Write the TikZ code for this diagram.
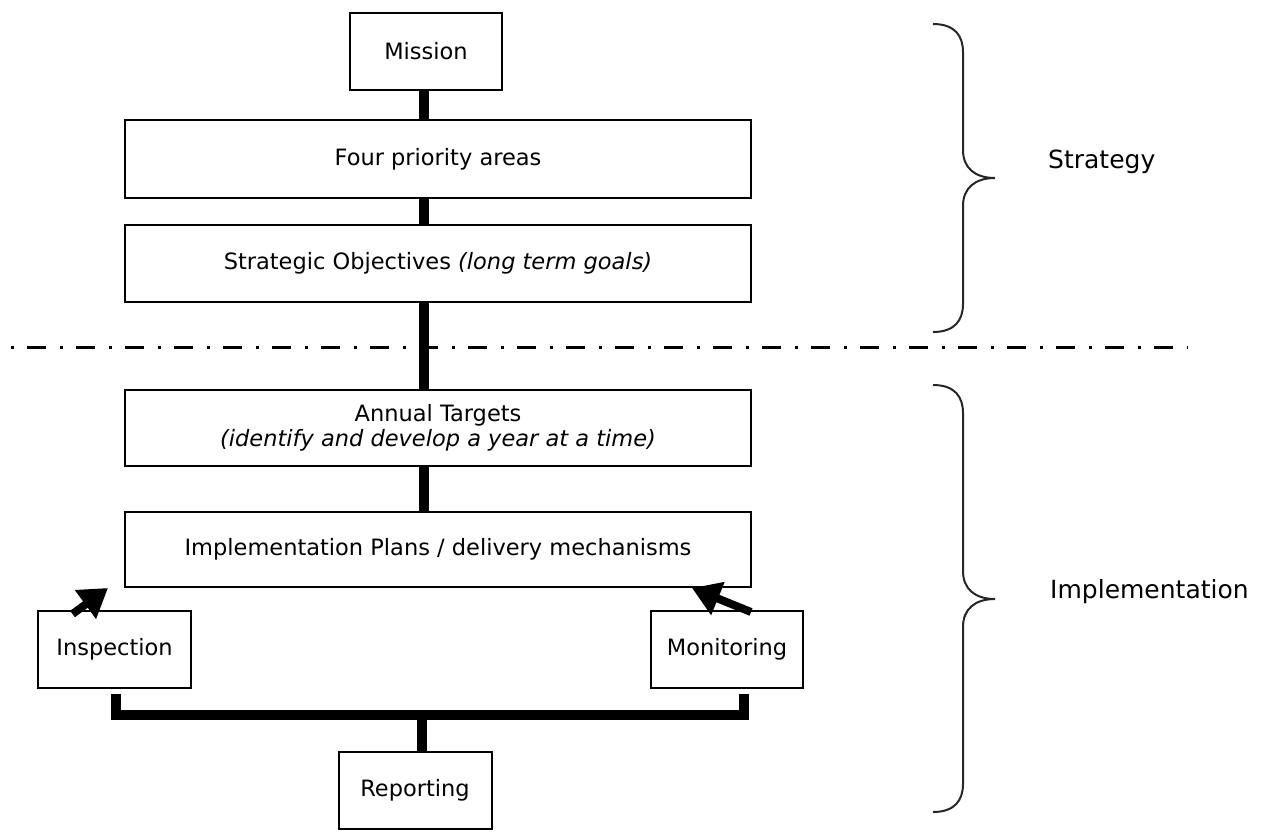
\documentclass[tikz,border=0pt]{standalone}
\usepackage{fontspec}
\setmainfont{DejaVu Sans}
\usetikzlibrary{arrows.meta,calc}
\tikzset{
  box/.style={draw=black, line width=2pt, fill=white, inner sep=0pt, outer sep=0pt,
    align=center, font=\fontsize{22.5}{25}\selectfont},
  bigbox/.style={box, minimum width=626pt},
  smallbox/.style={box, minimum width=153pt, minimum height=77pt},
  spine/.style={line width=10pt, black},
  bracketline/.style={line width=10pt, black, line join=miter},
  fatarrow/.style={line width=8pt, black, -{Triangle[length=28pt,width=34pt]}},
  bracepath/.style={line width=2pt, black!85},
  sidelabel/.style={inner sep=0pt, anchor=west, font=\fontsize{25}{30}\selectfont},
  divider/.style={line width=3pt, black, dash pattern=on 3pt off 13.5pt on 19pt off 13.5pt}
}
\begin{document}
\begin{tikzpicture}[x=1pt,y=-1pt]
\useasboundingbox (0,0) rectangle (1271,831);

% boxes
\node[smallbox, minimum width=152pt] (mission) at (426,51.5) {Mission};
\node[bigbox, minimum height=78pt] (four) at (438,159) {Four priority areas};
\node[bigbox, minimum height=77pt] (strat) at (438,263.5) {Strategic Objectives \textit{(long term goals)}};
\node[bigbox, minimum height=76pt] (annual) at (438,428) {Annual Targets\\\textit{(identify and develop a year at a time)}};
\node[bigbox, minimum height=75pt] (impl) at (438,549.5) {Implementation Plans / delivery mechanisms};
\node[smallbox] (insp) at (114.5,649.5) {Inspection};
\node[smallbox, minimum width=152pt] (mon) at (727,649.5) {Monitoring};
\node[smallbox] (rep) at (415,790.5) {Reporting};

% spine
\coordinate (sp) at (424,0);
\draw[spine] (mission.south -| sp) -- (four.north -| sp);
\draw[spine] (four.south -| sp) -- (strat.north -| sp);
\draw[spine] (strat.south -| sp) -- (annual.north -| sp);
\draw[spine] (annual.south -| sp) -- (impl.north -| sp);

% divider
\coordinate (dl) at (10.5,347);
\coordinate (dr) at (1188,347);
\draw[divider] (dl) -- (dr);

% bottom bracket
\coordinate (bar) at (0,715);
\coordinate (bl) at ($(insp.south)+(1.5,6)$);
\coordinate (br) at ($(mon.south)+(17,6)$);
\coordinate (rp) at ($(rep.north)+(7,0)$);
\draw[bracketline] (bl) -- (bl |- bar) -- (br |- bar) -- (br);
\draw[spine] (rp |- bar) -- (rp);

% feedback arrows
\coordinate (it) at ($(insp.north)+(-42,3)$);
\coordinate (ih) at ($(impl.south west)+(-17,1)$);
\coordinate (mt) at ($(mon.north)+(24,1)$);
\coordinate (mh) at ($(impl.south east)+(-59,1)$);
\draw[fatarrow] (it) -- (ih);
\draw[fatarrow] (mt) -- (mh);

% braces
\draw[bracepath] (933,24) .. controls (955,24) and (963,36) .. (963,52)
  -- (963,150) .. controls (963,168) and (975,178) .. (995,178)
  .. controls (975,178) and (963,188) .. (963,206)
  -- (963,304) .. controls (963,320) and (955,332) .. (933,332);
\draw[bracepath] (933,385) .. controls (955,385) and (963,397) .. (963,413)
  -- (963,571) .. controls (963,589) and (975,599) .. (995,599)
  .. controls (975,599) and (963,609) .. (963,627)
  -- (963,784) .. controls (963,800) and (955,812) .. (933,812);

% side labels
\node[sidelabel] (lstrat) at (1048,162) {Strategy};
\node[sidelabel] (limpl) at (1050,592) {Implementation};
\end{tikzpicture}
\end{document}
